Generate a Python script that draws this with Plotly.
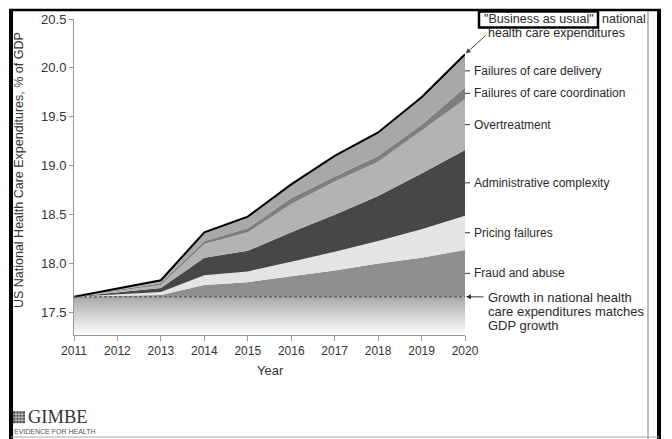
import plotly.graph_objects as go

# ---------------- data ----------------
YEARS = [2011, 2012, 2013, 2014, 2015, 2016, 2017, 2018, 2019, 2020]
GDP_MATCH = [17.66, 17.66, 17.66, 17.66, 17.66, 17.66, 17.66, 17.66, 17.66, 17.66]
FRAUD_TOP = [17.66, 17.67, 17.68, 17.78, 17.81, 17.87, 17.93, 18.00, 18.06, 18.14]
PRICING_TOP = [17.66, 17.685, 17.71, 17.88, 17.92, 18.02, 18.12, 18.23, 18.35, 18.49]
ADMIN_TOP = [17.66, 17.705, 17.75, 18.06, 18.13, 18.32, 18.50, 18.69, 18.92, 19.16]
OVERTREAT_TOP = [17.66, 17.72, 17.78, 18.20, 18.32, 18.61, 18.84, 19.04, 19.36, 19.68]
COORD_TOP = [17.66, 17.73, 17.80, 18.23, 18.36, 18.67, 18.89, 19.10, 19.42, 19.80]
DELIVERY_TOP = [17.66, 17.745, 17.83, 18.32, 18.48, 18.81, 19.10, 19.34, 19.70, 20.14]

LAYER_NAMES = ["Fraud and abuse", "Pricing failures", "Administrative complexity",
               "Overtreatment", "Failures of care coordination", "Failures of care delivery"]
LAYER_TOPS = [FRAUD_TOP, PRICING_TOP, ADMIN_TOP, OVERTREAT_TOP, COORD_TOP, DELIVERY_TOP]
LAYER_COLORS = ["#8f8f8f", "#e4e4e4", "#474747", "#b3b3b3", "#7e7e7e", "#a8a8a8"]

Y_TICKS = [17.5, 18.0, 18.5, 19.0, 19.5, 20.0, 20.5]
Y_RANGE = [17.27, 20.5]

# ---------------- layout helpers (pixel -> paper) ----------------
FW, FH = 672, 439
L, R, T, B = 74, 465, 16, 335
W, H = R - L, B - T


def px(x):
    return (x - L) / W


def py(y):
    return (B - y) / H


FONT = "Liberation Sans, Arial, sans-serif"

fig = go.Figure()

# gradient area below GDP-growth line
fig.add_trace(go.Scatter(x=YEARS, y=[Y_RANGE[0]] * len(YEARS), mode="lines",
                         line=dict(width=0), showlegend=False, hoverinfo="skip"))
fig.add_trace(go.Scatter(x=YEARS, y=GDP_MATCH, mode="lines", line=dict(width=0),
                         fill="tonexty",
                         fillgradient=dict(type="vertical",
                                           colorscale=[[0, "#ffffff"], [1, "#a9a9a9"]]),
                         showlegend=False, hoverinfo="skip"))

# stacked waste layers
for name, top, col in zip(LAYER_NAMES, LAYER_TOPS, LAYER_COLORS):
    fig.add_trace(go.Scatter(x=YEARS, y=top, mode="lines", line=dict(width=0, color=col),
                             fill="tonexty", fillcolor=col, name=name, showlegend=False))

# business-as-usual outline
fig.add_trace(go.Scatter(x=YEARS, y=DELIVERY_TOP, mode="lines",
                         line=dict(color="black", width=2), showlegend=False))
# GDP growth dashed line
fig.add_trace(go.Scatter(x=YEARS, y=GDP_MATCH, mode="lines",
                         line=dict(color="#555555", width=1.2, dash="3px,2px"),
                         showlegend=False))

shapes = []
annotations = []

# right-hand labels with little tick dashes (centred on each band at 2020)
bottoms = [GDP_MATCH] + LAYER_TOPS[:-1]
for name, top, bot in zip(LAYER_NAMES, LAYER_TOPS, bottoms):
    ymid = (top[-1] + bot[-1]) / 2
    shapes.append(dict(type="line", xref="paper", yref="y", x0=px(465), x1=px(470),
                       y0=ymid, y1=ymid, line=dict(color="#333333", width=1)))
    annotations.append(dict(text=name, xref="paper", yref="y", x=px(471.5), y=ymid,
                            xanchor="left", yanchor="middle", showarrow=False,
                            font=dict(family=FONT, size=12, color="#2a2a2a")))

# GDP growth note
annotations.append(dict(text="", xref="paper", yref="y", x=px(466), y=GDP_MATCH[-1],
                        ax=19, ay=0, showarrow=True, arrowhead=2, arrowsize=1,
                        arrowwidth=1, arrowcolor="#333333"))
for i, line in enumerate(["Growth in national health", "care expenditures matches", "GDP growth"]):
    annotations.append(dict(text=line, xref="paper", yref="paper", x=px(486),
                            y=py(297 + i * 14.2), xanchor="left", yanchor="middle",
                            showarrow=False, font=dict(family=FONT, size=13, color="#2a2a2a")))

# Business as usual note
annotations.append(dict(text="\"Business as usual\"", xref="paper", yref="paper",
                        x=px(482), y=py(16), xanchor="left", yanchor="middle", showarrow=False,
                        font=dict(family=FONT, size=12.5, color="#2a2a2a")))
annotations.append(dict(text="national", xref="paper", yref="paper",
                        x=px(600), y=py(16), xanchor="left", yanchor="middle", showarrow=False,
                        font=dict(family=FONT, size=12.5, color="#2a2a2a")))
annotations.append(dict(text="health care expenditures", xref="paper", yref="paper",
                        x=px(486), y=py(30), xanchor="left", yanchor="middle", showarrow=False,
                        font=dict(family=FONT, size=12.5, color="#2a2a2a")))
shapes.append(dict(type="rect", xref="paper", yref="paper", x0=px(479), x1=px(598),
                   y0=py(8.5), y1=py(24.5), line=dict(color="black", width=2.5)))
annotations.append(dict(text="", xref="x", yref="y", x=YEARS[-1], y=DELIVERY_TOP[-1],
                        ax=22, ay=-20, showarrow=True, arrowhead=2, arrowsize=1,
                        arrowwidth=1, arrowcolor="#444444", standoff=1))

# axis titles
annotations.append(dict(text="US National Health Care Expenditures, % of GDP", xref="paper",
                        yref="paper", x=px(19), y=py(168.5), xanchor="center", yanchor="middle",
                        textangle=-90, showarrow=False,
                        font=dict(family=FONT, size=12.5, color="#333333")))
annotations.append(dict(text="Year", xref="paper", yref="paper", x=px(270), y=py(371),
                        xanchor="center", yanchor="middle", showarrow=False,
                        font=dict(family=FONT, size=13, color="#333333")))

# frame
shapes += [
    dict(type="line", xref="paper", yref="paper", x0=px(9), x1=px(661), y0=py(7), y1=py(7),
         line=dict(color="black", width=2.5)),
    dict(type="line", xref="paper", yref="paper", x0=px(11), x1=px(11), y0=py(6), y1=py(440),
         line=dict(color="black", width=4)),
    dict(type="line", xref="paper", yref="paper", x0=px(659), x1=px(659), y0=py(6), y1=py(440),
         line=dict(color="black", width=4)),
    dict(type="line", xref="paper", yref="paper", x0=px(648), x1=px(648), y0=py(8), y1=py(440),
         line=dict(color="#777777", width=1)),
    dict(type="line", xref="paper", yref="paper", x0=px(11), x1=px(659), y0=py(438), y1=py(438),
         line=dict(color="#aaaaaa", width=1)),
]

# GIMBE logo
shapes.append(dict(type="rect", xref="paper", yref="paper", x0=px(13), x1=px(25),
                   y0=py(412), y1=py(424), line=dict(width=0), fillcolor="#4a4a4a"))
for k in range(1, 4):
    shapes.append(dict(type="line", xref="paper", yref="paper", x0=px(13 + 3 * k), x1=px(13 + 3 * k),
                       y0=py(412), y1=py(424), line=dict(color="#dddddd", width=0.8)))
    shapes.append(dict(type="line", xref="paper", yref="paper", x0=px(13), x1=px(25),
                       y0=py(412 + 3 * k), y1=py(412 + 3 * k), line=dict(color="#dddddd", width=0.8)))
annotations.append(dict(text="GIMBE", xref="paper", yref="paper", x=px(25.5), y=py(417.5),
                        xanchor="left", yanchor="middle", showarrow=False,
                        font=dict(family="Liberation Serif, Times New Roman, serif", size=18.5,
                                  color="#333333")))
annotations.append(dict(text="EVIDENCE FOR HEALTH", xref="paper", yref="paper", x=px(12),
                        y=py(432), xanchor="left", yanchor="middle", showarrow=False,
                        font=dict(family=FONT, size=7, color="#555555")))

fig.update_layout(
    width=FW, height=FH,
    margin=dict(l=L, r=FW - R, t=T, b=FH - B, pad=0),
    plot_bgcolor="white", paper_bgcolor="white",
    showlegend=False,
    shapes=shapes, annotations=annotations,
    xaxis=dict(range=[YEARS[0], YEARS[-1]], tickvals=YEARS, showgrid=False, zeroline=False,
               showline=True, linecolor="#999999", linewidth=1, ticks="outside", ticklen=5,
               tickcolor="#999999", tickfont=dict(family=FONT, size=12, color="#333333")),
    yaxis=dict(range=Y_RANGE, tickvals=Y_TICKS, tickformat=".1f", showgrid=False, zeroline=False,
               showline=True, linecolor="#999999", linewidth=1, ticks="outside", ticklen=4,
               tickcolor="#999999", tickfont=dict(family=FONT, size=13, color="#333333")),
)

fig.write_html("out.html", config={"displayModeBar": False},
               post_script="document.body.style.margin='0';document.body.style.overflow='hidden';")
